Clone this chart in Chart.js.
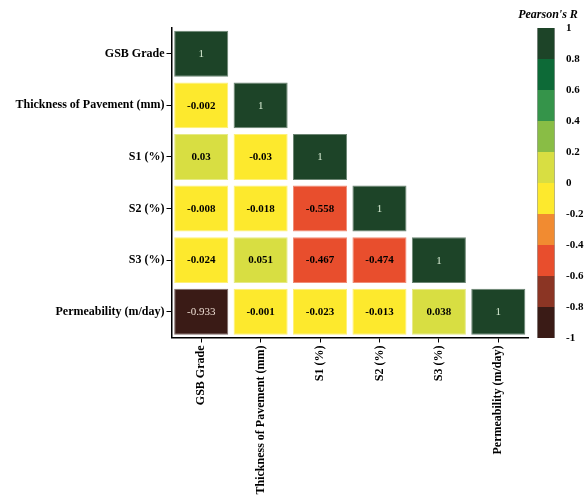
<!DOCTYPE html>
<html>
<head>
<meta charset="utf-8">
<script src="https://cdn.jsdelivr.net/npm/chart.js@4/dist/chart.umd.min.js"></script>
<style>
  html, body { margin: 0; padding: 0; background: #ffffff; }
  #wrap { position: relative; width: 584px; height: 496px; }
  #wrap canvas { position: absolute; left: 0; top: 0; }
</style>
</head>
<body>
<div id="wrap">
  <canvas id="heat" width="584" height="496"></canvas>
  <canvas id="scale" width="584" height="496"></canvas>
</div>
<script>
// Variables of the correlation matrix (row and column order)
const variables = ['GSB Grade', 'Thickness of Pavement (mm)', 'S1 (%)', 'S2 (%)', 'S3 (%)', 'Permeability (m/day)'];

// Lower-triangle Pearson correlation coefficients, one array per row
const corrGSB          = [1];
const corrThickness    = [-0.002, 1];
const corrS1           = [0.03, -0.03, 1];
const corrS2           = [-0.008, -0.018, -0.558, 1];
const corrS3           = [-0.024, 0.051, -0.467, -0.474, 1];
const corrPermeability = [-0.933, -0.001, -0.023, -0.013, 0.038, 1];
const corrRows = [corrGSB, corrThickness, corrS1, corrS2, corrS3, corrPermeability];

// Discrete colour scale: bin edges and one colour per bin (low to high)
const binEdges  = [-1, -0.8, -0.6, -0.4, -0.2, 0, 0.2, 0.4, 0.6, 0.8, 1];
const binColors = ['#3a1b16', '#8b3524', '#e84e2d', '#f18b31', '#fde92d',
                   '#d8de42', '#89bd45', '#35944a', '#0d6a37', '#1d4428'];
// Colour bar tick labels
const scaleTicks = [1, 0.8, 0.6, 0.4, 0.2, 0, -0.2, -0.4, -0.6, -0.8, -1];

const SERIF = '"Liberation Serif", "Times New Roman", serif';
Chart.defaults.font.family = SERIF;
Chart.defaults.color = '#000';

function binIndex(v) {
  return Math.max(0, Math.min(binColors.length - 1, Math.floor((v + 1) / 0.2 + 1e-9)));
}
function colorFor(v) { return binColors[binIndex(v)]; }
function lighten(hex, t) {
  const n = parseInt(hex.slice(1), 16);
  const r = (n >> 16) & 255, g = (n >> 8) & 255, b = n & 255;
  const m = c => Math.round(c + (255 - c) * t);
  return `rgb(${m(r)},${m(g)},${m(b)})`;
}

const cellHalf = 0.445;

const heatDatasets = corrRows.map((row, i) => ({
  label: variables[i],
  corr: row,
  data: variables.map((_, j) => (j <= i ? [i - cellHalf, i + cellHalf] : null)),
  backgroundColor: variables.map((_, j) => (j <= i ? colorFor(row[j]) : 'rgba(0,0,0,0)')),
  borderColor: variables.map((_, j) => (j <= i ? lighten(colorFor(row[j]), 0.35) : 'rgba(0,0,0,0)')),
  borderWidth: 1,
  borderSkipped: false,
  grouped: false,
  categoryPercentage: 1,
  barPercentage: 0.91
}));

// Writes each coefficient in the middle of its cell
const cellText = {
  id: 'cellText',
  afterDatasetsDraw(chart) {
    const ctx = chart.ctx;
    ctx.save();
    ctx.textAlign = 'center';
    ctx.textBaseline = 'middle';
    chart.data.datasets.forEach((ds, i) => {
      const meta = chart.getDatasetMeta(i);
      meta.data.forEach((el, j) => {
        if (j > i) return;
        const v = ds.corr[j];
        const dark = Math.abs(v) >= 0.8;
        if (dark) {
          ctx.fillStyle = v > 0 ? '#d6ead2' : '#ecdcd2';
          ctx.font = `11px ${SERIF}`;
        } else {
          ctx.fillStyle = '#000';
          ctx.font = `bold 11px ${SERIF}`;
        }
        const c = el.getCenterPoint();
        ctx.fillText(String(v), c.x, c.y + 0.5);
      });
    });
    ctx.restore();
  }
};

const axisFont = { family: SERIF, size: 12, weight: 'bold' };

new Chart(document.getElementById('heat'), {
  type: 'bar',
  data: { labels: variables, datasets: heatDatasets },
  options: {
    responsive: false,
    animation: false,
    devicePixelRatio: 1,
    layout: { padding: { top: 28, right: 56, left: 0, bottom: 0 } },
    plugins: { legend: { display: false }, tooltip: { enabled: false } },
    scales: {
      x: {
        type: 'category',
        offset: true,
        grid: { display: true, offset: false, drawOnChartArea: false, drawTicks: true, tickLength: 5, color: '#000', lineWidth: 1 },
        border: { display: true, color: '#000', width: 1.5 },
        ticks: { autoSkip: false, maxRotation: 90, minRotation: 90, padding: 3, color: '#000', font: axisFont },
        afterFit(s) { s.height = 158.5; }
      },
      y: {
        type: 'linear',
        reverse: true,
        min: -0.5,
        max: 5.5,
        afterBuildTicks(s) { s.ticks = variables.map((_, i) => ({ value: i })); },
        grid: { display: true, drawOnChartArea: false, drawTicks: true, tickLength: 5, color: '#000', lineWidth: 1 },
        border: { display: true, color: '#000', width: 1.5 },
        ticks: { padding: 2, color: '#000', font: axisFont, callback: v => variables[v] },
        afterFit(s) { s.width = 171.5; }
      }
    }
  },
  plugins: [cellText]
});

// Colour bar: one floating bar per bin on a -1..1 value axis
const scaleDatasets = binColors.map((c, k) => ({
  data: [[binEdges[k], binEdges[k + 1]]],
  backgroundColor: c,
  borderColor: 'rgba(40,40,40,0.45)',
  borderWidth: { left: 1, right: 1, top: 0, bottom: 0 },
  borderSkipped: false,
  grouped: false,
  categoryPercentage: 1,
  barPercentage: 1
}));

const scaleTitle = {
  id: 'scaleTitle',
  afterDraw(chart) {
    const ctx = chart.ctx;
    ctx.save();
    ctx.font = `italic bold 12px ${SERIF}`;
    ctx.fillStyle = '#000';
    ctx.textAlign = 'center';
    ctx.textBaseline = 'middle';
    ctx.fillText("Pearson's R", 548, 15);
    ctx.restore();
  }
};

new Chart(document.getElementById('scale'), {
  type: 'bar',
  data: { labels: [''], datasets: scaleDatasets },
  options: {
    responsive: false,
    animation: false,
    devicePixelRatio: 1,
    layout: { padding: { top: 28, bottom: 158, left: 537, right: 0 } },
    plugins: { legend: { display: false }, tooltip: { enabled: false } },
    scales: {
      x: { display: false },
      y: {
        position: 'right',
        min: -1,
        max: 1,
        afterBuildTicks(s) { s.ticks = scaleTicks.map(v => ({ value: v })); },
        grid: { display: false },
        border: { display: false },
        ticks: { padding: 3, color: '#000', font: { family: SERIF, size: 11, weight: 'bold' }, callback: v => String(v) },
        afterFit(s) { s.width = 29; }
      }
    }
  },
  plugins: [scaleTitle]
});
</script>
</body>
</html>
